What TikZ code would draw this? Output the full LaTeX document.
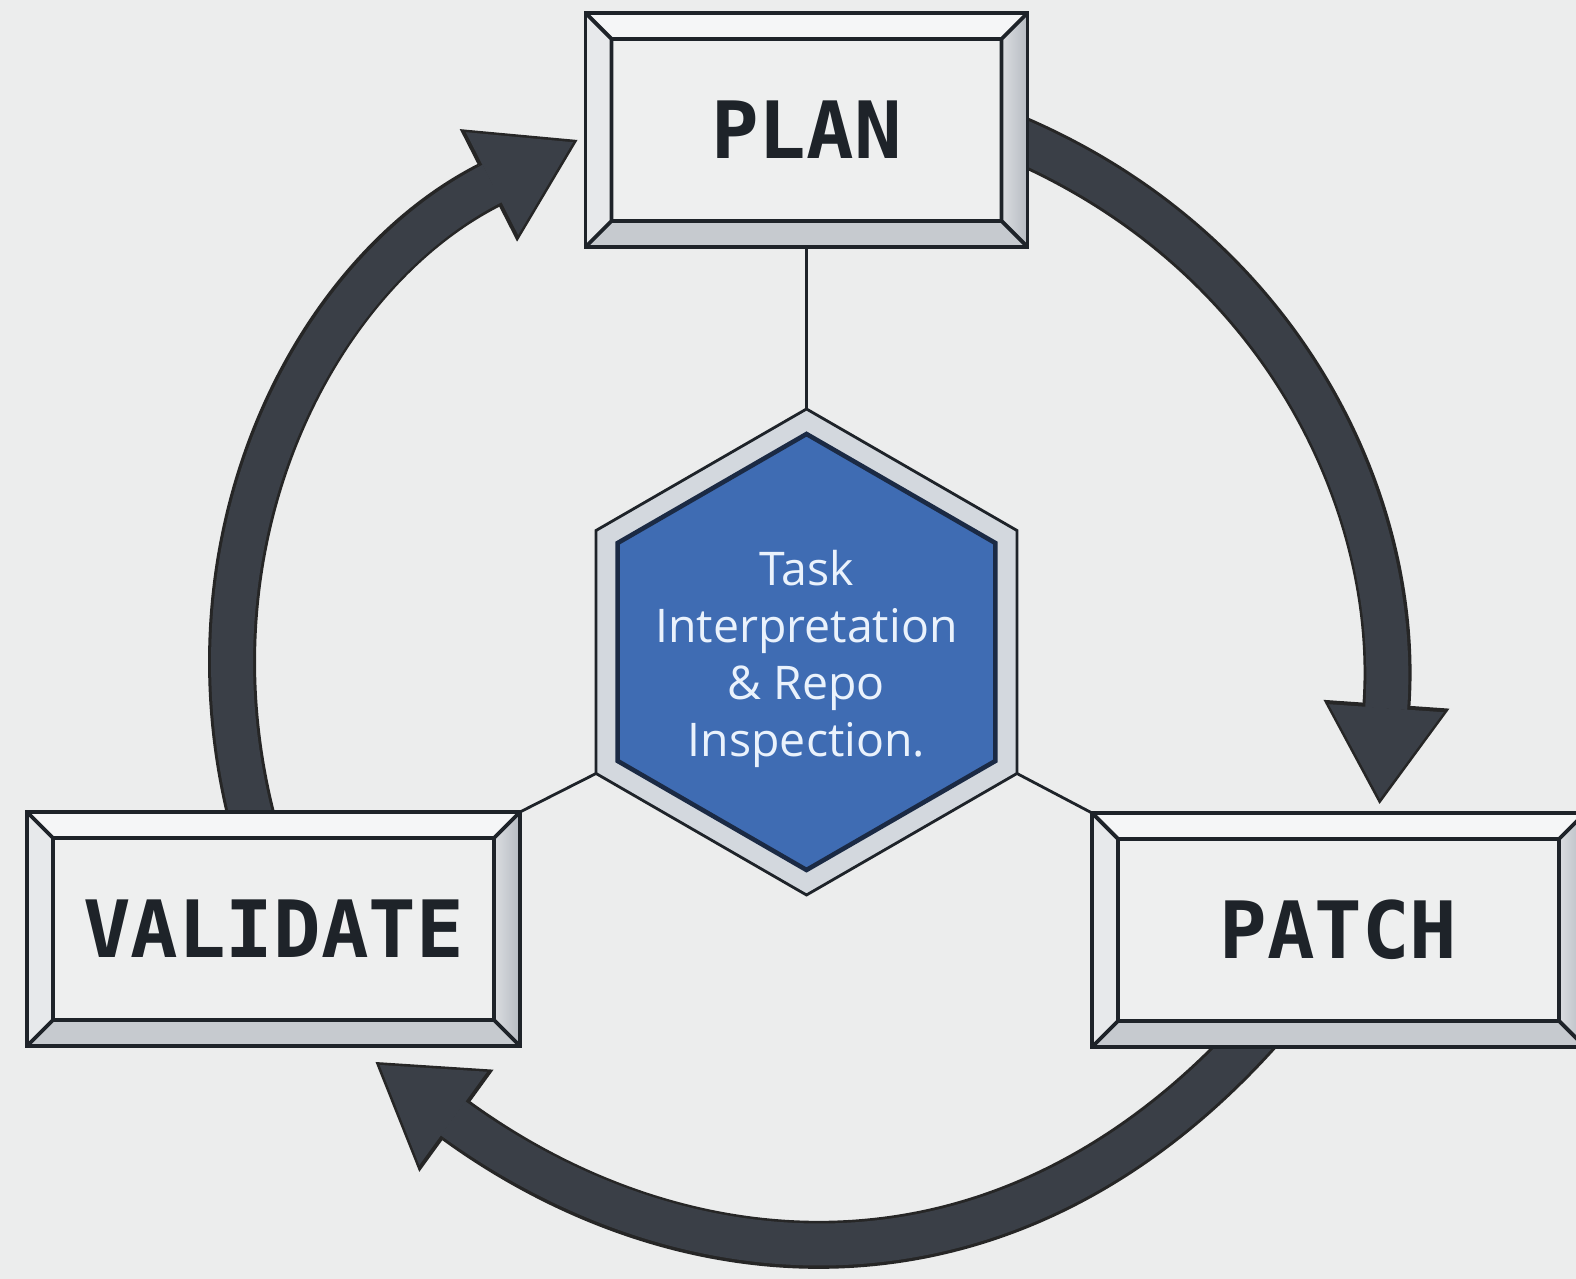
\documentclass[tikz,border=0pt]{standalone}
\usepackage{fontspec}
\newfontfamily\boxfont{DejaVu Sans Mono}
\newfontfamily\hubfont{Open Sans}
\usetikzlibrary{shapes.geometric,arrows.meta,backgrounds}
\definecolor{paper}{HTML}{ECEDED}
\definecolor{ink}{HTML}{1E2329}
\definecolor{face}{HTML}{EEEFEF}
\definecolor{bevtop}{HTML}{F5F6F7}
\definecolor{bevleft}{HTML}{E7E9EB}
\definecolor{bevright}{HTML}{B6BBC2}
\definecolor{bevbot}{HTML}{C6CACF}
\definecolor{slate}{HTML}{3A3F47}
\definecolor{ring}{HTML}{D3D8DE}
\definecolor{hexblue}{HTML}{3F6CB3}
\definecolor{navy}{HTML}{1B2A44}
\definecolor{hextext}{HTML}{EAF2FC}
\begin{document}
\begin{tikzpicture}[
  bevel/.style={draw=ink, line width=1.1pt, fill=face, minimum height=2.34cm, inner sep=0pt, outer sep=0pt,
    font=\boxfont\bfseries\fontsize{22.5}{27}\selectfont, text=ink,
    path picture={
      \path (path picture bounding box.north west) coordinate (o1) (path picture bounding box.north east) coordinate (o2)
        (path picture bounding box.south east) coordinate (o3) (path picture bounding box.south west) coordinate (o4)
        ([shift={(.26,-.26)}]o1) coordinate (i1) ([shift={(-.26,-.26)}]o2) coordinate (i2)
        ([shift={(-.26,.26)}]o3) coordinate (i3) ([shift={(.26,.26)}]o4) coordinate (i4);
      \fill[bevtop] (o1) -- (o2) -- (i2) -- (i1) -- cycle;
      \fill[bevleft] (o1) -- (i1) -- (i4) -- (o4) -- cycle;
      \shade[left color=bevright!50!white, right color=bevright] (o2) -- (o3) -- (i3) -- (i2) -- cycle;
      \fill[bevbot] (o4) -- (i4) -- (i3) -- (o3) -- cycle;
      \draw[ink, line width=1.1pt] (i1) rectangle (i3) (o1) -- (i1) (o2) -- (i2) (o3) -- (i3) (o4) -- (i4);
    }},
  hexa/.style={regular polygon, regular polygon sides=6, shape border rotate=30, inner sep=0pt, outer sep=0pt},
  looparrow/.style={line width=.48cm, draw=black!85, -{Triangle[length=1cm,width=1.26cm,line width=.4pt]},
    postaction={draw=slate, line width=.42cm, shorten >=.05cm, -{Triangle[length=.91cm,width=1.15cm,line width=.4pt]}}},
  link/.style={draw=ink, line width=.8pt}
]
\useasboundingbox (0,0) rectangle (15.76,12.79);
\foreach \n/\t/\x/\y/\w in {plan/PLAN/8.065/11.49/4.42, validate/VALIDATE/2.735/3.50/4.93, patch/PATCH/13.385/3.49/4.93}
  \node[bevel, minimum width=\w cm] (\n) at (\x,\y) {\t};
\node[hexa, minimum size=4.86cm, fill=ring, draw=ink, line width=.8pt] (hub) at (8.065,6.27) {};
\node[hexa, minimum size=4.36cm, fill=hexblue, draw=navy, line width=1.3pt] (core) at (hub) {};
\node[text=hextext, align=center, font=\hubfont\fontsize{13.2}{16.3}\selectfont] (task) at ([yshift=-.07cm]core)
  {Task\\Interpretation\\\& Repo\\Inspection.};
\draw[link] (plan.south) -- (hub.90);
\draw[link] (hub.210) -- (validate.north east);
\draw[link] (hub.330) -- (patch.north west);
\begin{scope}[on background layer]
  \fill[paper] (0,0) rectangle (15.76,12.79);
  \draw[looparrow] ([shift={(-.195,-.15)}]validate.north) to[out=105,in=207] ([shift={(-.08,-.1)}]plan.west);
  \draw[looparrow] ([shift={(-.15,-.07)}]plan.east) to[out=-23,in=86] ([shift={(.41,.09)}]patch.north);
  \draw[looparrow] ([shift={(-.8,.15)}]patch.south) to[out=228,in=324,looseness=1.1] ([shift={(1.02,-.16)}]validate.south);
\end{scope}
\end{tikzpicture}
\end{document}
